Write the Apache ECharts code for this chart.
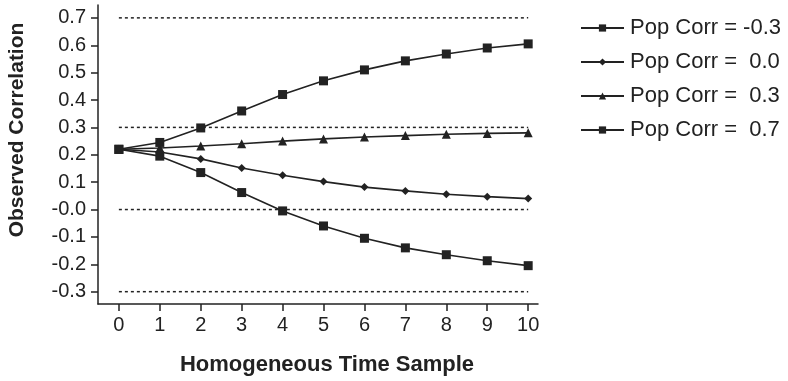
<!DOCTYPE html>
<html>
<head>
<meta charset="utf-8">
<script src="https://cdn.jsdelivr.net/npm/echarts@6/dist/echarts.min.js"></script>
<style>
  html, body { margin: 0; padding: 0; background: #fff; }
  #chart { width: 788px; height: 381px; }
</style>
</head>
<body>
<div id="chart"></div>
<script>
// x: homogeneous time sample
const samples = [0, 1, 2, 3, 4, 5, 6, 7, 8, 9, 10]
const yTicks = [-0.3, -0.2, -0.1, 0.0, 0.1, 0.2, 0.3, 0.4, 0.5, 0.6, 0.7]
const refLevels = [0.7, 0.3, 0.0, -0.3]

const corrNeg03 = [0.22, 0.195, 0.135, 0.062, -0.005, -0.06, -0.105, -0.14, -0.165, -0.187, -0.205]
const corr00 = [0.22, 0.21, 0.185, 0.152, 0.125, 0.102, 0.082, 0.068, 0.056, 0.047, 0.04]
const corr03 = [0.22, 0.225, 0.232, 0.24, 0.25, 0.258, 0.265, 0.27, 0.275, 0.278, 0.28]
const corr07 = [0.22, 0.245, 0.298, 0.36, 0.42, 0.47, 0.51, 0.543, 0.568, 0.59, 0.605]

const ink = '#222'
const font = 'Liberation Sans, Arial, sans-serif'

const myChart = echarts.init(document.getElementById('chart'))

const makeSeries = (name, values, symbol, size) => ({
  name,
  type: 'line',
  symbol,
  symbolSize: size,
  lineStyle: { color: ink, width: 1.6 },
  itemStyle: { color: ink },
  data: samples.map((s, i) => [s, values[i]]),
  z: 3
})

// dotted reference lines
const refSeries = refLevels.map(v => ({
  type: 'line',
  symbol: 'none',
  silent: true,
  lineStyle: { color: ink, width: 1.5, type: [3, 3] },
  data: [[samples[0], v], [samples[samples.length - 1], v]],
  z: 1
}))

const option = {
  animation: false,
  grid: { left: 98, right: 250, top: 5, bottom: 77 },
  graphic: [
    {
      type: 'text',
      x: 17,
      y: 130,
      rotation: Math.PI / 2,
      style: {
        text: 'Observed Correlation',
        fontFamily: font,
        fontSize: 21,
        fontWeight: 'bold',
        fill: ink,
        align: 'center',
        verticalAlign: 'middle'
      }
    }
  ],
  legend: {
    orient: 'vertical',
    left: 575,
    top: 12,
    itemGap: 12,
    itemWidth: 43,
    itemHeight: 9,
    textStyle: { fontFamily: font, fontSize: 22, lineHeight: 22, color: ink, padding: [0, 0, 0, 1] },
    data: ['Pop Corr = -0.3', 'Pop Corr =  0.0', 'Pop Corr =  0.3', 'Pop Corr =  0.7']
  },
  xAxis: {
    type: 'value',
    min: -0.51,
    max: 10.24,
    name: 'Homogeneous Time Sample',
    nameLocation: 'middle',
    nameGap: 50,
    nameTextStyle: { fontFamily: font, fontSize: 22, fontWeight: 'bold', color: ink, padding: [0, 0, 0, 18] },
    axisLine: { onZero: false, lineStyle: { color: ink, width: 1.5 } },
    axisTick: { show: true, length: 7, lineStyle: { color: ink, width: 1.5 }, customValues: samples },
    axisLabel: { fontFamily: font, fontSize: 20, color: ink, margin: 11, customValues: samples },
    splitLine: { show: false }
  },
  yAxis: {
    type: 'value',
    min: -0.345,
    max: 0.747,
    axisLine: { show: true, onZero: false, lineStyle: { color: ink, width: 1.5 } },
    axisTick: { show: true, length: 7, lineStyle: { color: ink, width: 1.5 }, customValues: yTicks },
    axisLabel: {
      fontFamily: font,
      fontSize: 20,
      color: ink,
      margin: 12,
      customValues: yTicks,
      formatter: v => (Math.abs(v) < 1e-9 ? '-0.0' : v.toFixed(1))
    },
    splitLine: { show: false }
  },
  series: [
    ...refSeries,
    makeSeries('Pop Corr = -0.3', corrNeg03, 'rect', 9),
    makeSeries('Pop Corr =  0.0', corr00, 'diamond', 8),
    makeSeries('Pop Corr =  0.3', corr03, 'triangle', 9),
    makeSeries('Pop Corr =  0.7', corr07, 'rect', 9)
  ]
}

option && myChart.setOption(option)
</script>
</body>
</html>
